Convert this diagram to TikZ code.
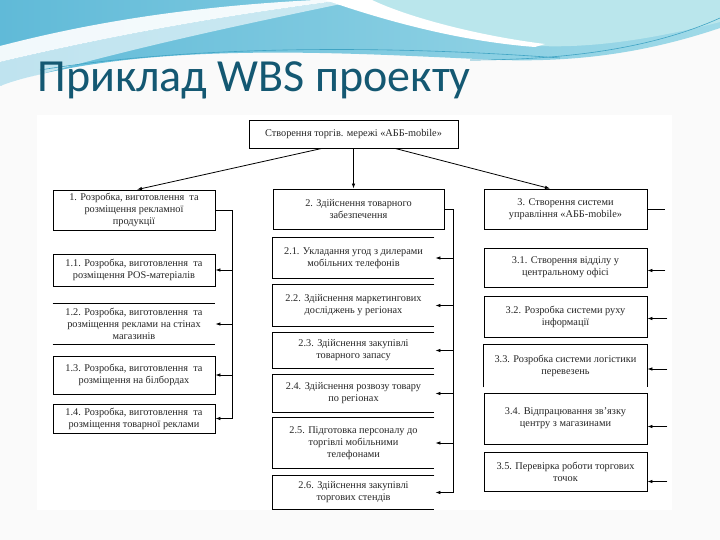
\documentclass[tikz,border=0pt]{standalone}
\usepackage{fontspec}
\setmainfont{Liberation Serif}
\newfontfamily\titlefont{Carlito}
\usetikzlibrary{arrows.meta}
\definecolor{titleblue}{RGB}{20,88,114}
\definecolor{wavedark}{RGB}{96,186,216}
\definecolor{wavelight}{RGB}{160,218,232}
\definecolor{wavepale}{RGB}{186,230,236}
\definecolor{waveline}{RGB}{64,164,196}

\begin{document}
\begin{tikzpicture}[x=1pt,y=-1pt,line width=0.8pt,>={Latex[length=5pt,width=3.5pt]},
  box/.style={draw,align=center,inner sep=1pt,text=black!85,
    font=\fontsize{10.3}{12}\selectfont},
  openbox/.style={box,draw=none},
  cone/.style={minimum width=162pt},
  ctwo/.style={minimum width=161pt},
  cthree/.style={minimum width=163pt}]
\useasboundingbox (0,0) rectangle (720,540);

% slide background
\fill[black!2] (0,0) rectangle (720,540);
\fill[white] (37,115) rectangle (672,510);
\shade[left color=wavedark,right color=wavelight]
  (0,0) -- (720,0) -- (720,28) .. controls (640,55) and (570,62) .. (500,60)
  .. controls (380,55) and (200,42) .. (60,70) .. controls (30,76) and (10,82) .. (0,86) -- cycle;
\fill[wavepale] (345,0) -- (720,0) -- (720,22) .. controls (650,40) and (590,48) .. (540,46)
  .. controls (470,36) and (400,18) .. (345,0) -- cycle;
\fill[white,opacity=0.92] (0,46) .. controls (100,20) and (200,6) .. (315,0) -- (345,0)
  .. controls (220,16) and (110,36) .. (0,62) -- cycle;
\fill[white,opacity=0.6] (0,62) .. controls (110,36) and (220,16) .. (345,0) -- (360,0)
  .. controls (240,25) and (120,50) .. (0,86) -- cycle;
\fill[white] (325,0) .. controls (400,26) and (470,42) .. (535,47) -- (545,44)
  .. controls (480,36) and (410,18) .. (372,0) -- cycle;
\draw[waveline,line width=0.6pt] (40,70) .. controls (200,44) and (400,46) .. (560,58);
\draw[waveline,line width=0.6pt] (470,60) .. controls (580,60) and (660,45) .. (720,18);

\node[anchor=base west,inner sep=0,text=titleblue,font=\titlefont\fontsize{46}{46}\selectfont]
  (title) at (37,92) {Приклад WBS проекту};

% WBS
\node[box,minimum width=209pt,minimum height=28pt] (root) at (353.5,134)
  {Створення торгів. мережі «АББ-mobile»};

\node[box,cone,minimum height=40pt] (b1) at (134,210)
  {1. Розробка, виготовлення\ \ та\\розміщення рекламної\\продукції};
\node[box,cone,minimum height=32pt] (b11) at (134,270)
  {1.1. Розробка, виготовлення\ \ та\\розміщення POS-матеріалів};
\node[openbox,cone,minimum height=40pt] (b12) at (134,324)
  {1.2. Розробка, виготовлення\ \ та\\розміщення реклами на стінах\\магазинів};
\node[box,cone,minimum height=38pt] (b13) at (134,375)
  {1.3. Розробка, виготовлення\ \ та\\розміщення на білбордах};
\node[box,cone,minimum height=29pt] (b14) at (134,418.5)
  {1.4. Розробка, виготовлення\ \ та\\розміщення товарної реклами};

\node[box,minimum width=171pt,minimum height=40pt] (b2) at (358.5,209)
  {2. Здійснення товарного\\забезпечення};
\node[openbox,ctwo,minimum height=40pt] (b21) at (353.5,258)
  {2.1. Укладання угод з дилерами\\мобільних телефонів};
\node[openbox,ctwo,minimum height=41pt] (b22) at (353.5,305.5)
  {2.2. Здійснення маркетингових\\досліджень у регіонах};
\node[openbox,ctwo,minimum height=35pt] (b23) at (353.5,350.5)
  {2.3. Здійснення закупівлі\\товарного запасу};
\node[openbox,ctwo,minimum height=37pt] (b24) at (353.5,393.5)
  {2.4. Здійснення розвозу товару\\по регіонах};
\node[openbox,ctwo,minimum height=50pt] (b25) at (353.5,443)
  {2.5. Підготовка персоналу до\\торгівлі мобільними\\телефонами};
\node[openbox,ctwo,minimum height=33pt] (b26) at (353.5,492.5)
  {2.6. Здійснення закупівлі\\торгових стендів};

\node[box,cthree,minimum height=40pt] (b3) at (565.5,209)
  {3. Створення системи\\управління «АББ-mobile»};
\node[box,cthree,minimum height=39pt] (b31) at (565.5,267.5)
  {3.1. Створення відділу у\\центральному офісі};
\node[box,cthree,minimum height=41pt] (b32) at (565.5,316.5)
  {3.2. Розробка системи руху\\інформації};
\node[openbox,cthree,minimum height=42pt] (b33) at (565.5,366)
  {3.3. Розробка системи логістики\\перевезень};
\node[box,cthree,minimum height=51pt] (b34) at (565.5,418.5)
  {3.4. Відпрацювання зв'язку\\центру з магазинами};
\node[box,cthree,minimum height=39pt] (b35) at (565.5,471.5)
  {3.5. Перевірка роботи торгових\\точок};

% open box sides
\draw (b12.north west) -- (b12.north east);
\draw (b12.south west) -- (b12.south east);
\foreach \n in {21,...,26}
  \draw (b\n.north east) -- (b\n.north west) -- (b\n.south west) -- (b\n.south east);
\draw (b33.south west) -- (b33.north west) -- (b33.north east) -- (b33.south east);

% links from the root
\draw[->] ([xshift=-31.5pt]root.south) -- ([xshift=3pt]b1.north);
\draw[->] (root.south) -- (root.south |- b2.north);
\draw[->] ([xshift=41.5pt]root.south) -- ([xshift=-15.5pt]b3.north);

% column 1
\coordinate (s1) at (232,210);
\draw (b1.east) -- (s1) -- (s1 |- b14);
\foreach \n in {11,12,13,14}
  \draw[->] (s1 |- b\n) -- (b\n.east);

% column 2
\coordinate (s2) at (453,209);
\draw (b2.east) -- (s2) -- (s2 |- b26);
\foreach \n in {21,...,26}
  \draw[->] (s2 |- b\n) -- ([xshift=1pt]b\n.east);

% column 3
\coordinate (s3) at (665,209);
\draw (b3.east) -- (s3);
\draw[->] (b31.east) ++(18pt,-3pt) coordinate (t31) -- (t31 -| b31.east);
\draw[->] (b32.east) ++(20pt,-2pt) coordinate (t32) -- (t32 -| b32.east);
\draw[->] (b33.east) ++(20pt,-3pt) coordinate (t33) -- (t33 -| b33.east);
\draw[->] (b34.east) ++(20pt,-8pt) coordinate (t34) -- (t34 -| b34.east);
\draw[->] (b35.east) ++(20pt,-10pt) coordinate (t35) -- (t35 -| b35.east);
\end{tikzpicture}
\end{document}
